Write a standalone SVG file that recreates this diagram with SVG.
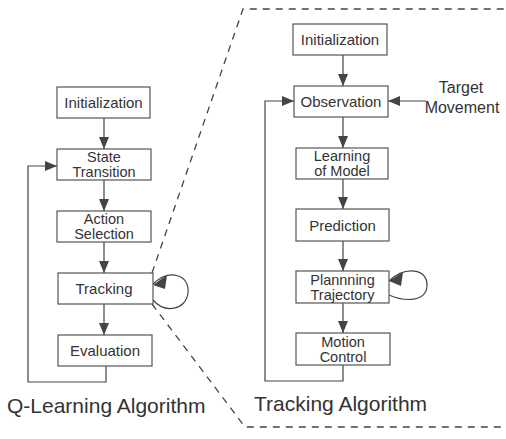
<svg xmlns="http://www.w3.org/2000/svg" width="506" height="439" viewBox="0 0 506 439">
<style>
.box{fill:#fff;stroke:#555;stroke-width:1.2}
.t{font-family:"Liberation Sans",Arial,sans-serif;font-size:15px;fill:#333;text-anchor:middle}
.t2{font-family:"Liberation Sans",Arial,sans-serif;font-size:14.5px;fill:#333;text-anchor:middle}
.tg{font-family:"Liberation Sans",Arial,sans-serif;font-size:16px;fill:#333;text-anchor:middle}
.cap{font-family:"Liberation Sans",Arial,sans-serif;font-size:21px;fill:#333}
.c{fill:none;stroke:#444;stroke-width:1.2}
.d{fill:none;stroke:#444;stroke-width:1.3;stroke-dasharray:7,6}
</style>
<defs>
<marker id="ah" markerWidth="12" markerHeight="10" refX="12" refY="5" orient="auto" markerUnits="userSpaceOnUse">
<path d="M0,0 L12,5 L0,10 Z" fill="#444"/>
</marker>
</defs>
<rect width="506" height="439" fill="#fff"/>
<g id="boundary">
<path class="d" d="M152,273 L243,9 L506,9"/>
<path class="d" d="M152,304 L245,427 L506,427"/>
</g>
<g id="connectors">
<line class="c" x1="104" y1="118" x2="104" y2="149" marker-end="url(#ah)"/>
<line class="c" x1="104" y1="180" x2="104" y2="211" marker-end="url(#ah)"/>
<line class="c" x1="104" y1="242" x2="104" y2="273" marker-end="url(#ah)"/>
<line class="c" x1="104" y1="304" x2="104" y2="335" marker-end="url(#ah)"/>
<polyline class="c" points="106,366 106,382 28,382 28,166 57,166" marker-end="url(#ah)"/>
<path class="c" d="M153,284 C170,268 190,275 188,293 C186,310 165,314 153,300"/>
<path d="M153,285 L167,275 L165,289 Z" fill="#444"/>
<line class="c" x1="343" y1="55" x2="343" y2="86" marker-end="url(#ah)"/>
<line class="c" x1="343" y1="117" x2="343" y2="148" marker-end="url(#ah)"/>
<line class="c" x1="343" y1="179" x2="343" y2="209" marker-end="url(#ah)"/>
<line class="c" x1="343" y1="241" x2="343" y2="271" marker-end="url(#ah)"/>
<line class="c" x1="343" y1="303" x2="343" y2="333" marker-end="url(#ah)"/>
<polyline class="c" points="343,365 343,381 265,381 265,101 294,101" marker-end="url(#ah)"/>
<line class="c" x1="426" y1="101" x2="388" y2="101" marker-end="url(#ah)"/>
<path class="c" d="M389,281 C405,266 428,268 427,286 C426,302 405,302 389,295"/>
<path d="M389,281 L403,272 L401,286 Z" fill="#444"/>
</g>
<g id="q-init"><rect class="box" x="57" y="87" width="93" height="31"/><text class="t" x="103.5" y="108">Initialization</text></g>
<g id="q-state"><rect class="box" x="57" y="149" width="94" height="31"/><text class="t2" x="104" y="162">State</text><text class="t2" x="104" y="177">Transition</text></g>
<g id="q-action"><rect class="box" x="57" y="211" width="94" height="31"/><text class="t2" x="104" y="224">Action</text><text class="t2" x="104" y="239">Selection</text></g>
<g id="q-tracking"><rect class="box" x="58" y="273" width="95" height="31"/><text class="t" x="104" y="294">Tracking</text></g>
<g id="q-eval"><rect class="box" x="58" y="335" width="94" height="31"/><text class="t" x="105" y="356">Evaluation</text></g>
<g id="t-init"><rect class="box" x="293" y="24" width="94" height="31"/><text class="t" x="340" y="45">Initialization</text></g>
<g id="t-obs"><rect class="box" x="294" y="86" width="94" height="31"/><text class="t" x="341" y="107">Observation</text></g>
<g id="t-learn"><rect class="box" x="296" y="148" width="92" height="31"/><text class="t2" x="342" y="161">Learning</text><text class="t2" x="342" y="176">of Model</text></g>
<g id="t-pred"><rect class="box" x="296" y="209" width="93" height="32"/><text class="t" x="342.5" y="230.5">Prediction</text></g>
<g id="t-plan"><rect class="box" x="296" y="271" width="93" height="32"/><text class="t2" x="342.5" y="284.5">Plannning</text><text class="t2" x="342.5" y="299.5">Trajectory</text></g>
<g id="t-motion"><rect class="box" x="296" y="333" width="94" height="32"/><text class="t2" x="343" y="346.5">Motion</text><text class="t2" x="343" y="361.5">Control</text></g>
<g id="target"><text class="tg" x="461" y="93">Target</text><text class="tg" x="462" y="113">Movement</text></g>
<text class="cap" x="7" y="413">Q-Learning Algorithm</text>
<text class="cap" x="254" y="411">Tracking Algorithm</text>
</svg>
